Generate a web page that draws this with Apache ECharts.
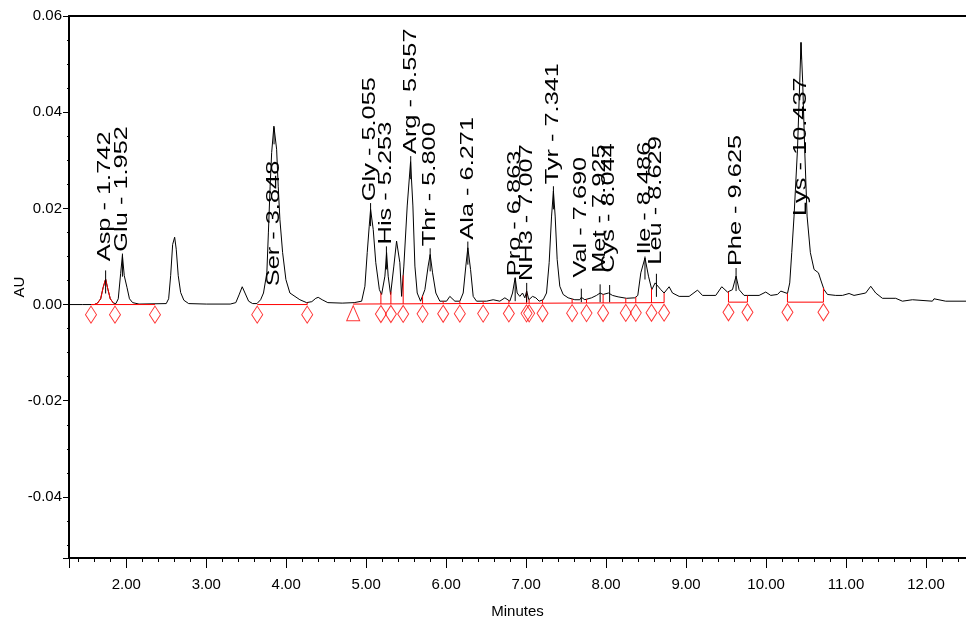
<!DOCTYPE html>
<html><head><meta charset="utf-8">
<script src="https://cdn.jsdelivr.net/npm/echarts@6/dist/echarts.min.js"></script>
<style>html,body{margin:0;padding:0;background:#fff}#c{width:966px;height:626px}</style>
</head><body><div id="c"></div>
<script>
// ---- chromatogram trace (minutes, AU) ----
const traceTime = [1.284,1.45,1.60,1.64,1.68,1.71,1.742,1.77,1.80,1.84,1.87,1.90,1.93,1.952,1.975,2.01,2.04,2.08,2.16,2.50,2.53,2.555,2.58,2.605,2.625,2.65,2.68,2.72,2.78,3.00,3.30,3.37,3.41,3.45,3.49,3.53,3.58,3.634,3.68,3.716,3.758,3.777,3.799,3.818,3.846,3.880,3.900,3.921,3.955,3.996,4.046,4.171,4.255,4.32,4.37,4.40,4.45,4.52,4.70,4.85,4.943,4.984,5.013,5.038,5.055,5.088,5.120,5.165,5.193,5.234,5.255,5.275,5.305,5.346,5.380,5.400,5.421,5.443,5.471,5.513,5.555,5.584,5.609,5.638,5.680,5.734,5.775,5.800,5.830,5.871,5.921,6.005,6.046,6.068,6.109,6.171,6.213,6.246,6.271,6.305,6.338,6.380,6.505,6.588,6.671,6.734,6.796,6.830,6.863,6.888,6.921,6.955,6.984,7.007,7.034,7.080,7.121,7.163,7.213,7.255,7.288,7.318,7.341,7.363,7.388,7.421,7.463,7.525,7.609,7.671,7.690,7.734,7.818,7.880,7.925,7.963,8.030,8.080,8.150,8.255,8.359,8.396,8.434,8.486,8.530,8.571,8.613,8.629,8.684,8.725,8.788,8.830,8.913,9.038,9.143,9.205,9.371,9.446,9.518,9.580,9.625,9.663,9.725,9.913,9.996,10.059,10.143,10.184,10.268,10.296,10.321,10.350,10.393,10.421,10.437,10.458,10.483,10.513,10.554,10.600,10.655,10.688,10.725,10.768,10.871,10.955,11.038,11.100,11.246,11.309,11.371,11.455,11.621,11.705,11.830,12.080,12.100,12.246,12.500];
const traceAU = [0.0000,0.0000,0.0000,0.0003,0.0012,0.0035,0.0053,0.0032,0.0012,0.0003,0.0002,0.0012,0.0065,0.0102,0.0060,0.0035,0.0012,0.0004,0.0001,0.0002,0.0012,0.0060,0.0125,0.0140,0.0115,0.0060,0.0025,0.0009,0.0002,0.0001,0.0001,0.0004,0.0020,0.0037,0.0022,0.0007,0.0002,0.0002,0.0010,0.0024,0.0066,0.0149,0.0246,0.0316,0.0371,0.0323,0.0246,0.0177,0.0108,0.0052,0.0024,0.0010,0.0004,0.0006,0.0013,0.0015,0.0010,0.0004,0.0003,0.0004,0.0007,0.0038,0.0108,0.0163,0.0198,0.0156,0.0087,0.0031,0.0021,0.0059,0.0108,0.0059,0.0021,0.0080,0.0132,0.0135,0.0087,0.0017,0.0080,0.0205,0.0297,0.0205,0.0080,0.0024,0.0007,0.0031,0.0080,0.0104,0.0066,0.0024,0.0007,0.0007,0.0017,0.0019,0.0007,0.0007,0.0024,0.0080,0.0118,0.0073,0.0017,0.0007,0.0007,0.0010,0.0007,0.0014,0.0007,0.0024,0.0056,0.0024,0.0017,0.0024,0.0014,0.0028,0.0010,0.0017,0.0014,0.0007,0.0010,0.0024,0.0087,0.0184,0.0236,0.0184,0.0094,0.0038,0.0021,0.0014,0.0010,0.0010,0.0015,0.0010,0.0014,0.0019,0.0024,0.0021,0.0024,0.0019,0.0016,0.0013,0.0014,0.0019,0.0066,0.0097,0.0059,0.0031,0.0045,0.0046,0.0031,0.0024,0.0037,0.0024,0.0017,0.0017,0.0030,0.0019,0.0019,0.0037,0.0026,0.0031,0.0059,0.0031,0.0019,0.0019,0.0026,0.0019,0.0021,0.0028,0.0023,0.0045,0.0108,0.0184,0.0323,0.0462,0.0545,0.0462,0.0323,0.0184,0.0108,0.0073,0.0066,0.0049,0.0031,0.0021,0.0019,0.0019,0.0023,0.0019,0.0024,0.0038,0.0024,0.0013,0.0013,0.0007,0.0010,0.0007,0.0012,0.0007,0.0007];

// ---- peak labels ----
const peakNames = ['Asp','Glu','Ser','Gly','His','Arg','Thr','Ala','Pro','NH3','Tyr','Val','Met','Cys','Ile','Leu','Phe','Lys'];
const peakRT = [1.742,1.952,3.848,5.055,5.253,5.557,5.800,6.271,6.863,7.007,7.341,7.690,7.925,8.044,8.486,8.629,9.625,10.437];
const labelBaseAU = [0.0090,0.0110,0.0038,0.0215,0.0125,0.0313,0.0121,0.0135,0.0059,0.0049,0.0250,0.0056,0.0066,0.0066,0.0104,0.0083,0.0080,0.0184];

// ---- integration marks ----
const diamondTime = [1.559,1.859,2.359,3.6375,4.2625,5.184,5.309,5.4625,5.705,5.9625,6.171,6.4625,6.784,7.005,7.0375,7.205,7.575,7.755,7.9625,8.246,8.371,8.5675,8.725,9.53,9.7675,10.2675,10.7175];
const triangleTime = [4.8375];
const segStart = [1.559,3.6375,4.8375,9.53,10.2675];
const segEnd = [2.359,4.2625,8.725,9.7675,10.7175];
const segLevelStart = [0.0000,0.0000,0.0001,0.0005,0.0005];
const segLevelEnd = [0.0000,0.0000,0.0004,0.0005,0.0005];
const aspWindow = [1.60,1.86];

function interp(t){
  for (let i=1;i<traceTime.length;i++){
    if (t<=traceTime[i]){
      const a=traceTime[i-1], b=traceTime[i];
      return traceAU[i-1]+(traceAU[i]-traceAU[i-1])*(t-a)/(b-a);
    }
  }
  return traceAU[traceAU.length-1];
}
function baseAt(t){
  for (let i=0;i<segStart.length;i++){
    if (t>=segStart[i]-1e-6 && t<=segEnd[i]+1e-6){
      return segLevelStart[i]+(segLevelEnd[i]-segLevelStart[i])*(t-segStart[i])/(segEnd[i]-segStart[i]);
    }
  }
  return 0;
}

const AXFONT = '"Liberation Sans",Arial,sans-serif';
const chart = echarts.init(document.getElementById('c'), null, {renderer:'canvas'});

const series = [];
series.push({
  type:'line', name:'trace', data: traceTime.map((t,i)=>[t,traceAU[i]]),
  showSymbol:false, symbol:'none', lineStyle:{color:'#000', width:1}, z:2, silent:true
});
series.push({
  type:'line', name:'asp', data: traceTime.map((t,i)=>[t,traceAU[i]]).filter(p=>p[0]>=aspWindow[0]&&p[0]<=aspWindow[1]),
  showSymbol:false, symbol:'none', lineStyle:{color:'#ff0000', width:1}, z:3, silent:true
});
segStart.forEach((s,i)=>{
  series.push({
    type:'line', data:[[s,segLevelStart[i]],[segEnd[i],segLevelEnd[i]]],
    showSymbol:false, symbol:'none', lineStyle:{color:'#ff0000', width:1}, z:4, silent:true
  });
});
series.push({
  type:'custom', name:'drops', data: diamondTime.map(t=>[t, baseAt(t), interp(t)]),
  encode:{x:0,y:1}, z:4, silent:true,
  renderItem:(params, api)=>{
    const t=api.value(0), b=api.value(1), v=api.value(2);
    if (v-b<0.0004) return null;
    const p1=api.coord([t,b]), p2=api.coord([t,v]);
    return {type:'line', shape:{x1:p1[0],y1:p1[1],x2:p2[0],y2:p2[1]}, style:{stroke:'#ff0000', lineWidth:1}};
  }
});
series.push({
  type:'scatter', data: diamondTime.map(t=>[t, baseAt(t)-0.0021]),
  symbol:'diamond', symbolSize:[11,17],
  itemStyle:{color:'rgba(255,255,255,0)', borderColor:'#ff0000', borderWidth:1}, z:5, silent:true
});
series.push({
  type:'scatter', data: triangleTime.map(t=>[t, baseAt(t)-0.0019]),
  symbol:'triangle', symbolSize:[13,15],
  itemStyle:{color:'rgba(255,255,255,0)', borderColor:'#ff0000', borderWidth:1}, z:5, silent:true
});
series.push({
  type:'custom', name:'labels', data: peakRT.map((t,i)=>[t, labelBaseAU[i], i]),
  encode:{x:0,y:1}, z:6, silent:true, clip:false,
  renderItem:(params, api)=>{
    const rt=api.value(0), base=api.value(1), i=api.value(2);
    const apex = interp(rt);
    let top, bot;
    if (base > apex) { top = Math.min(apex + 0.0018, base - 0.0004); bot = Math.max(top - 0.0048, 0.0005); }
    else { top = apex; bot = apex - 0.0035; }
    const m1 = api.coord([rt, top]), m2 = api.coord([rt, bot]);
    const p = api.coord([rt, base]);
    return {type:'group', children:[
      {type:'line', shape:{x1:m1[0],y1:m1[1],x2:m2[0],y2:m2[1]}, style:{stroke:'#000', lineWidth:1}},
      {type:'text', x:p[0], y:p[1], rotation:Math.PI/2, scaleX:1.45, scaleY:1,
       style:{text: peakNames[i]+' - '+peakRT[i].toFixed(3), font:'17.5px "Liberation Sans", Arial, sans-serif',
              fill:'#000', textAlign:'left', textVerticalAlign:'middle', align:'left', verticalAlign:'middle'}}
    ]};
  }
});

chart.setOption({
  animation:false,
  backgroundColor:'#fff',
  grid:{left:69, right:0, top:16, bottom:68, containLabel:false, outerBoundsMode:'none'},
  xAxis:[{
    type:'value', min:1.284, max:12.5, splitNumber:11,
    name:'Minutes', nameLocation:'middle', nameGap:46, nameMoveOverlap:false,
    nameTextStyle:{fontFamily:AXFONT, fontSize:15, color:'#000'},
    axisLine:{show:true, onZero:false, lineStyle:{color:'#000', width:2}},
    axisTick:{show:true, length:10, lineStyle:{color:'#000', width:1}},
    minorTick:{show:true, splitNumber:5, length:4, lineStyle:{color:'#000', width:1}},
    splitLine:{show:false}, minorSplitLine:{show:false},
    axisLabel:{formatter:v=>v.toFixed(2), showMinLabel:false, showMaxLabel:false, margin:19,
               fontFamily:AXFONT, fontSize:15, color:'#000'}
  },{
    type:'value', position:'top', min:1.284, max:12.5,
    axisLine:{show:true, onZero:false, lineStyle:{color:'#000', width:2}},
    axisTick:{show:false}, axisLabel:{show:false}, splitLine:{show:false}
  }],
  yAxis:{
    type:'value', min:-0.0527, max:0.06, splitNumber:6,
    name:'AU', nameLocation:'middle', nameRotate:90, nameGap:42, nameMoveOverlap:false,
    nameTextStyle:{fontFamily:AXFONT, fontSize:15, color:'#000'},
    axisLine:{show:true, onZero:false, lineStyle:{color:'#000', width:2}},
    axisTick:{show:true, length:6, lineStyle:{color:'#000', width:1}},
    minorTick:{show:true, splitNumber:4, length:2, lineStyle:{color:'#000', width:1}},
    splitLine:{show:false},
    axisLabel:{formatter:v=>v.toFixed(2), showMinLabel:false, showMaxLabel:true, margin:7,
               fontFamily:AXFONT, fontSize:15, color:'#000'}
  },
  series: series
});
</script></body></html>
